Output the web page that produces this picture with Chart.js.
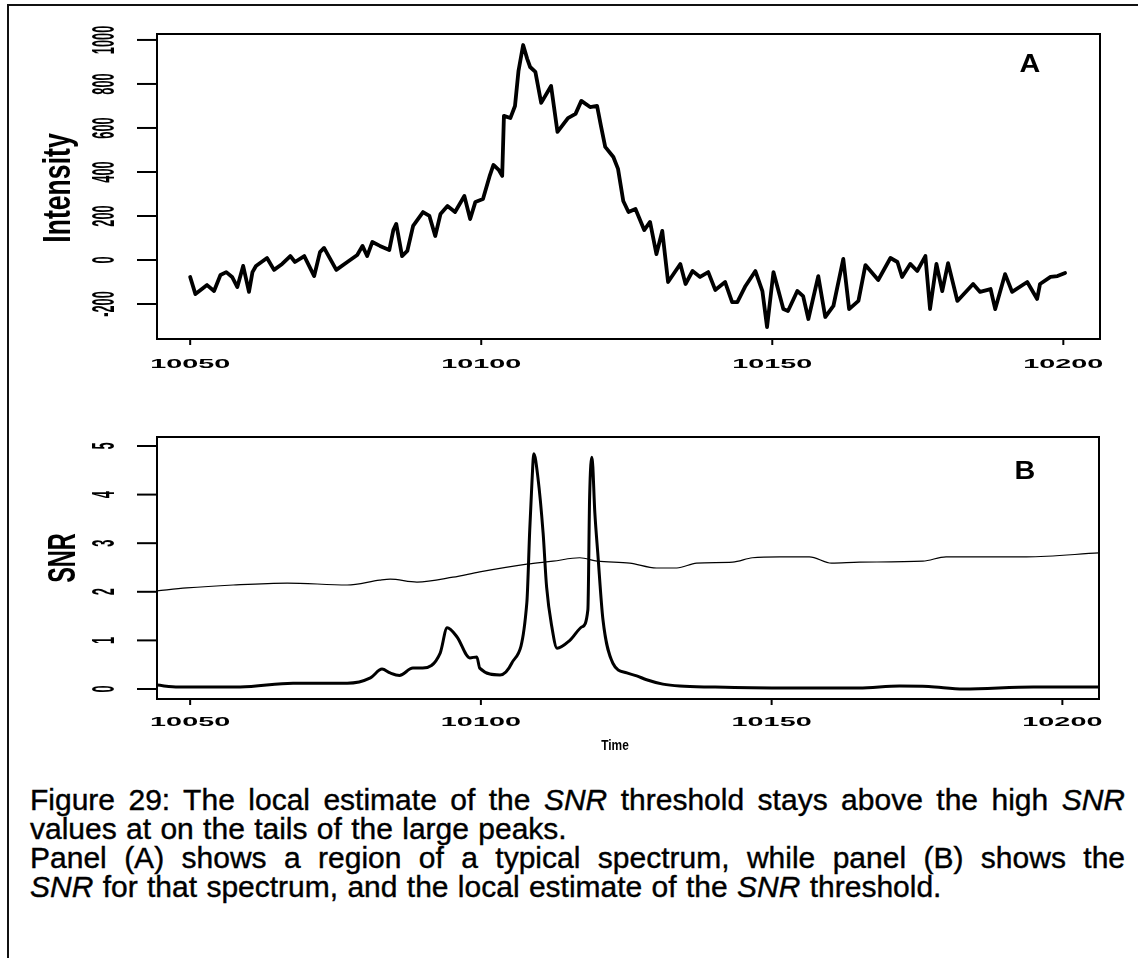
<!DOCTYPE html>
<html>
<head>
<meta charset="utf-8">
<script src="https://cdn.jsdelivr.net/npm/chart.js@4.4.1/dist/chart.umd.min.js"></script>
<style>
  html, body { margin: 0; padding: 0; background: #fff; }
  #page { position: relative; width: 1138px; height: 958px; overflow: hidden; background: #fff; }
  #frameTop { position: absolute; left: 7px; top: 4px; width: 1131px; height: 2px; background: #111; }
  #frameLeft { position: absolute; left: 7px; top: 4px; width: 2px; height: 954px; background: #111; }
  canvas { position: absolute; left: 0; }
  #spectrumChart { top: 0; }
  #snrChart { top: 380px; }
  #caption {
    position: absolute; left: 30px; top: 785px; width: 1095px;
    font-family: "Liberation Sans", Arial, sans-serif; font-size: 30px; line-height: 29px; color: #000;
    -webkit-text-stroke: 0.4px #000; word-spacing: 1px;
  }
  #caption .line { white-space: nowrap; }
  #caption .just { text-align: justify; text-align-last: justify; }
</style>
</head>
<body>
<div id="page">
  <div id="frameTop"></div>
  <div id="frameLeft"></div>
  <canvas id="spectrumChart" width="1138" height="380"></canvas>
  <canvas id="snrChart" width="1138" height="380"></canvas>
  <div id="caption">
    <div class="line just">Figure 29: The local estimate of the <i>SNR</i> threshold stays above the high <i>SNR</i></div>
    <div class="line">values at on the tails of the large peaks.</div>
    <div class="line just">Panel (A) shows a region of a typical spectrum, while panel (B) shows the</div>
    <div class="line"><i>SNR</i> for that spectrum, and the local estimate of the <i>SNR</i> threshold.</div>
  </div>
</div>

<script>
// ============================
// Данные: панель A — спектр
// ============================
const specTime = [
  10050.0, 10050.9, 10052.9, 10054.1, 10055.2, 10056.2, 10057.2, 10058.1, 10059.1, 10060.1,
  10060.7, 10061.3, 10063.2, 10064.4, 10065.8, 10067.2, 10068.0, 10069.6, 10071.3, 10072.3,
  10073.0, 10075.1, 10077.0, 10078.7, 10079.6, 10080.4, 10081.3, 10082.6, 10084.2, 10084.9,
  10085.4, 10086.4, 10087.3, 10088.3, 10090.0, 10091.1, 10092.1, 10093.0, 10094.2, 10095.5,
  10097.1, 10098.1, 10099.0, 10100.3, 10101.5, 10102.1, 10103.0, 10103.6, 10103.9, 10105.0,
  10105.8, 10106.4, 10107.2, 10107.9, 10108.4, 10109.3, 10110.3, 10112.0, 10113.1, 10114.9,
  10116.2, 10117.2, 10118.7, 10119.9, 10120.6, 10121.3, 10122.7, 10123.5, 10124.4, 10125.3,
  10126.5, 10128.0, 10129.0, 10130.1, 10131.1, 10132.1, 10134.2, 10135.1, 10136.3, 10137.6,
  10139.0, 10140.2, 10141.9, 10143.1, 10144.0, 10145.4, 10147.1, 10148.3, 10149.1, 10150.2,
  10151.9, 10152.7, 10154.3, 10155.3, 10156.2, 10157.9, 10159.1, 10160.5, 10162.2, 10163.2,
  10164.8, 10166.0, 10168.2, 10170.3, 10171.5, 10172.3, 10173.7, 10174.9, 10176.3, 10177.1,
  10178.2, 10179.2, 10180.2, 10181.8, 10184.5, 10185.7, 10187.5, 10188.3, 10190.0, 10191.2,
  10193.8, 10195.5, 10196.0, 10197.8, 10199.0, 10200.3
];
const specIntensity = [
  -77, -155, -114, -141, -68, -55, -77, -123, -27, -145,
  -55, -27, 9, -45, -18, 18, -9, 18, -73, 36,
  55, -45, -9, 23, 64, 18, 82, 64, 45, 136,
  164, 18, 41, 155, 218, 200, 109, 209, 245, 218,
  291, 186, 264, 277, 386, 432, 410, 382, 655, 645,
  700, 859, 977, 914, 877, 855, 714, 791, 582, 645,
  664, 723, 695, 700, 605, 514, 468, 414, 268, 218,
  232, 136, 173, 27, 132, -100, -18, -109, -50, -77,
  -55, -136, -100, -191, -191, -118, -50, -141, -305, -55,
  -223, -232, -141, -164, -268, -73, -259, -209, 5, -223,
  -186, -23, -91, 9, -9, -77, -18, -50, 18, -223,
  -18, -141, -14, -186, -109, -145, -132, -223, -64, -145,
  -100, -177, -109, -77, -73, -59
];

// ============================
// Данные: панель B — SNR и локальный порог
// ============================
const snrTime = [
  10044.3, 10048.0, 10058.6, 10067.7, 10077.0, 10081.0, 10083.0, 10084.4, 10086.0, 10088.3,
  10090.0, 10093.0, 10094.2, 10095.9, 10098.1, 10099.3, 10099.8, 10103.3, 10105.3, 10107.9,
  10108.4, 10108.8, 10109.1, 10109.8, 10110.7, 10111.3, 10112.2, 10113.1, 10115.3, 10117.4,
  10118.4, 10118.7, 10119.1, 10119.6, 10120.1, 10121.0, 10122.7, 10125.1, 10126.8, 10128.5,
  10131.3, 10134.2, 10139.9, 10151.0, 10165.0, 10172.0, 10177.0, 10183.0, 10195.0, 10206.3
];
const snrValue = [
  0.08, 0.04, 0.04, 0.12, 0.12, 0.23, 0.41, 0.33, 0.28, 0.43,
  0.43, 0.74, 1.26, 1.07, 0.64, 0.66, 0.43, 0.29, 0.53, 1.77,
  3.27, 4.30, 4.84, 4.36, 3.21, 2.10, 1.28, 0.84, 1.00, 1.28,
  1.63, 3.95, 4.77, 3.62, 2.80, 1.42, 0.53, 0.33, 0.27, 0.19,
  0.10, 0.06, 0.04, 0.02, 0.02, 0.06, 0.05, 0.00, 0.04, 0.04
];
const thrTime = [
  10044.3, 10049.4, 10057.4, 10066.7, 10077.0, 10082.6, 10084.4, 10089.0, 10095.2, 10099.8,
  10107.9, 10112.4, 10117.0, 10120.0, 10125.6, 10130.2, 10133.7, 10137.1, 10143.3, 10146.7,
  10151.4, 10156.5, 10160.3, 10165.1, 10176.0, 10180.0, 10193.8, 10206.3
];
const thrValue = [
  2.02, 2.08, 2.14, 2.18, 2.14, 2.24, 2.26, 2.20, 2.30, 2.41,
  2.57, 2.63, 2.70, 2.63, 2.59, 2.49, 2.49, 2.59, 2.61, 2.70,
  2.72, 2.72, 2.59, 2.61, 2.63, 2.72, 2.72, 2.80
];

// Подписи осей
const timeTicks = [10050, 10100, 10150, 10200];
const intensityTicks = [-200, 0, 200, 400, 600, 800, 1000];
const snrTicks = [0, 1, 2, 3, 4, 5];

const zip = (xs, ys) => xs.map((x, i) => ({ x, y: ys[i] }));

// 📝 Текст с поворотом и растяжением (как в отсканированном R-графике)
function drawLabel(ctx, text, x, y, o) {
  ctx.save();
  ctx.translate(x, y);
  if (o.rot) ctx.rotate(o.rot);
  ctx.scale(o.sx || 1, o.sy || 1);
  ctx.font = o.font;
  ctx.fillStyle = '#000';
  ctx.textAlign = o.align || 'center';
  ctx.textBaseline = 'alphabetic';
  ctx.fillText(text, 0, 0);
  ctx.restore();
}

// 📐 Рамка, засечки и подписи в стиле base R
const rFrame = {
  id: 'rFrame',
  afterDraw(chart, args, opts) {
    const { ctx, chartArea: a, scales } = chart;
    ctx.save();
    ctx.strokeStyle = '#000';
    ctx.lineWidth = 2;
    ctx.strokeRect(a.left, a.top, a.right - a.left, a.bottom - a.top);

    // ось X
    timeTicks.forEach(t => {
      const px = scales.x.getPixelForValue(t);
      ctx.beginPath();
      ctx.moveTo(px, a.bottom);
      ctx.lineTo(px, a.bottom + 6);
      ctx.stroke();
      drawLabel(ctx, String(t), px, opts.xLabelY, { font: 'bold 18px "Liberation Sans"', sx: 1.6, sy: 0.75 });
    });

    // ось Y: метки повернуты вдоль оси
    opts.yTicks.forEach(v => {
      const py = scales.y.getPixelForValue(v);
      ctx.beginPath();
      ctx.moveTo(a.left - 20, py);
      ctx.lineTo(a.left, py);
      ctx.stroke();
      drawLabel(ctx, String(v), 114, py, { font: 'bold 32px "Liberation Sans"', rot: -Math.PI / 2, sx: 0.4, sy: 1 });
    });

    // заголовок оси Y
    drawLabel(ctx, opts.yTitle, opts.yTitleX, opts.yTitleY,
      { font: 'bold 38px "Liberation Sans"', rot: -Math.PI / 2, sx: opts.yTitleSx, sy: 1 });

    // буква панели
    drawLabel(ctx, opts.letter, opts.letterX, opts.letterY, { font: 'bold 25px "Liberation Sans"', sx: 1.15, sy: 1 });

    if (opts.xTitle) {
      drawLabel(ctx, opts.xTitle, opts.xTitleX, opts.xTitleY, { font: 'bold 14px "Liberation Sans"', sx: 0.85, sy: 1 });
    }
    ctx.restore();
  }
};

function baseOptions(padding, xr, yr, frame) {
  return {
    responsive: false,
    animation: false,
    events: [],
    layout: { padding },
    plugins: { legend: { display: false }, tooltip: { enabled: false }, rFrame: frame },
    scales: {
      x: { type: 'linear', display: false, min: xr[0], max: xr[1] },
      y: { type: 'linear', display: false, min: yr[0], max: yr[1] }
    },
    elements: { point: { radius: 0 } }
  };
}

// 📈 Панель A
new Chart(document.getElementById('spectrumChart').getContext('2d'), {
  type: 'line',
  data: {
    datasets: [{
      data: zip(specTime, specIntensity),
      borderColor: '#000',
      borderWidth: 3.8,
      borderJoinStyle: 'round',
      borderCapStyle: 'round',
      tension: 0
    }]
  },
  options: baseOptions(
    { left: 157, top: 34, right: 38, bottom: 41 },
    [10044.3, 10206.3], [-359, 1027],
    { yTicks: intensityTicks, xLabelY: 368, yTitle: 'Intensity', yTitleX: 70, yTitleY: 188, yTitleSx: 0.7,
      letter: 'A', letterX: 1030, letterY: 72 }
  ),
  plugins: [rFrame]
});

// 📈 Панель B
new Chart(document.getElementById('snrChart').getContext('2d'), {
  type: 'line',
  data: {
    datasets: [{
      data: zip(thrTime, thrValue),
      borderColor: '#000',
      borderWidth: 1.2,
      cubicInterpolationMode: 'monotone'
    }, {
      data: zip(snrTime, snrValue),
      borderColor: '#000',
      borderWidth: 3,
      borderJoinStyle: 'round',
      cubicInterpolationMode: 'monotone'
    }]
  },
  options: baseOptions(
    { left: 157, top: 57, right: 39, bottom: 61 },
    [10044.3, 10206.3], [-0.206, 5.185],
    { yTicks: snrTicks, xLabelY: 346, yTitle: 'SNR', yTitleX: 75, yTitleY: 178, yTitleSx: 0.62,
      letter: 'B', letterX: 1025, letterY: 99, xTitle: 'Time', xTitleX: 615, xTitleY: 370 }
  ),
  plugins: [rFrame]
});
</script>
</body>
</html>
